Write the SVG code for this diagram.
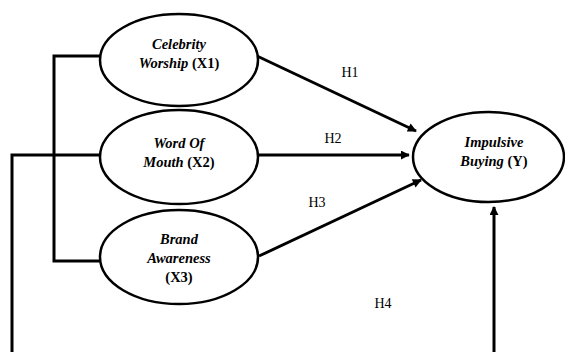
<svg xmlns="http://www.w3.org/2000/svg" width="565" height="352" viewBox="0 0 565 352">
<defs>
<style>
.node{fill:#fff;stroke:#000;stroke-width:2.5}
.ln{fill:none;stroke:#000;stroke-width:3}
.t{font-family:"Liberation Serif","Times New Roman",serif;font-size:14.5px;fill:#000;text-anchor:middle}
.b{font-weight:bold}
.i{font-style:italic;font-weight:bold}
.h{font-family:"Liberation Serif","Times New Roman",serif;font-size:14px;fill:#000;text-anchor:middle}
</style>
<marker id="arr" viewBox="0 0 10 10" refX="9" refY="5" markerWidth="3.2" markerHeight="3" orient="auto" markerUnits="strokeWidth">
<path d="M0,0 L10,5 L0,10 z" fill="#000"/>
</marker>
</defs>
<rect width="565" height="352" fill="#fff"/>
<g id="connectors">
<polyline class="ln" points="100,56 54,56 54,261 100,261"/>
<polyline class="ln" points="100,155 12,155 12,352"/>
<line class="ln" x1="257" y1="56" x2="416" y2="131" marker-end="url(#arr)"/>
<line class="ln" x1="258" y1="155" x2="409" y2="155" marker-end="url(#arr)"/>
<line class="ln" x1="259" y1="256" x2="421" y2="180" marker-end="url(#arr)"/>
<line class="ln" x1="494" y1="352" x2="494" y2="207" marker-end="url(#arr)"/>
<text class="h" x="350" y="77">H1</text>
<text class="h" x="333" y="143">H2</text>
<text class="h" x="317" y="207">H3</text>
<text class="h" x="383" y="308">H4</text>
</g>
<g id="x1">
<ellipse class="node" cx="179" cy="60" rx="79" ry="46"/>
<text class="t" x="179" y="49"><tspan class="i">Celebrity</tspan></text>
<text class="t" x="179" y="68"><tspan class="i">Worship</tspan><tspan class="b"> (X1)</tspan></text>
</g>
<g id="x2">
<ellipse class="node" cx="179" cy="157" rx="79" ry="47"/>
<text class="t" x="179" y="148"><tspan class="i">Word Of</tspan></text>
<text class="t" x="179" y="167"><tspan class="i">Mouth</tspan><tspan class="b"> (X2)</tspan></text>
</g>
<g id="x3">
<ellipse class="node" cx="179" cy="257" rx="79" ry="47"/>
<text class="t" x="179" y="244"><tspan class="i">Brand</tspan></text>
<text class="t" x="179" y="263"><tspan class="i">Awareness</tspan></text>
<text class="t" x="179" y="282"><tspan class="b">(X3)</tspan></text>
</g>
<g id="y">
<ellipse class="node" cx="488.5" cy="157" rx="75.5" ry="45"/>
<text class="t" x="494" y="147"><tspan class="i">Impulsive</tspan></text>
<text class="t" x="494" y="166"><tspan class="i">Buying</tspan><tspan class="b"> (Y)</tspan></text>
</g>
</svg>
